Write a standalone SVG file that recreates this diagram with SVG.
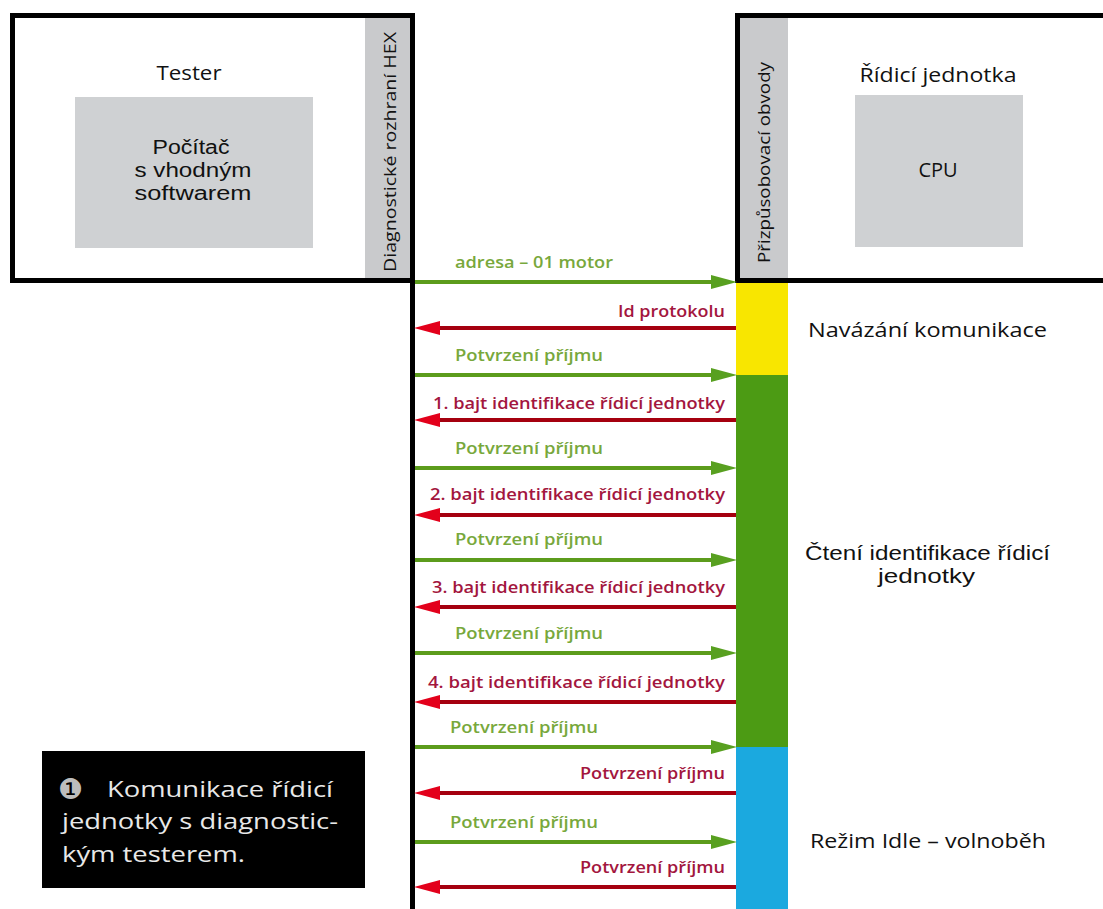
<svg xmlns="http://www.w3.org/2000/svg" width="1103" height="909" viewBox="0 0 1103 909">
<style>
.frame{fill:#fff;stroke:#000;stroke-width:5}
.strip{fill:#c9cacc}
.inner{fill:#cfd1d3}
.t{font-family:"Open Sans","Noto Sans","Liberation Sans",sans-serif;fill:#111}
.s{font-family:"Liberation Sans","Open Sans",sans-serif;fill:#111}
.big{font-size:20px}
.vt{font-size:17px}
.g{stroke:#5c9c1c;stroke-width:4;fill:none}
.r{stroke:#a5000f;stroke-width:4;fill:none}
.gl{font-family:"Open Sans","Noto Sans","Liberation Sans",sans-serif;font-size:16px;font-weight:600;fill:#78a83c}
.rl{font-family:"Open Sans","Noto Sans","Liberation Sans",sans-serif;font-size:16px;font-weight:600;fill:#a3163e;text-anchor:end}
.cap{font-family:"Open Sans","Noto Sans","Liberation Sans",sans-serif;font-size:22px;fill:#e8e8e8}
</style>
<defs>
<marker id="ag" markerUnits="userSpaceOnUse" markerWidth="26" markerHeight="16" refX="13" refY="8" orient="auto">
<path d="M0,1 L26,8 L0,15 z" fill="#58a020"/>
</marker>
<marker id="ar" markerUnits="userSpaceOnUse" markerWidth="26" markerHeight="16" refX="13" refY="8" orient="auto">
<path d="M0,1 L26,8 L0,15 z" fill="#e3001b"/>
</marker>
</defs>
<rect width="1103" height="909" fill="#fff"/>

<g id="tester">
<rect class="frame" x="12.5" y="15.5" width="400" height="265"/>
<rect class="strip" x="365" y="18" width="45" height="260"/>
<text class="t vt" transform="translate(396,272) rotate(-90)" textLength="240" lengthAdjust="spacingAndGlyphs">Diagnostické rozhraní HEX</text>
<text class="t big" x="189" y="80" text-anchor="middle" textLength="65" lengthAdjust="spacingAndGlyphs">Tester</text>
<rect class="inner" x="75" y="97" width="238" height="151"/>
<text class="s big" x="191" y="154" text-anchor="middle" textLength="77" lengthAdjust="spacingAndGlyphs">Počítač</text>
<text class="s big" x="193" y="177" text-anchor="middle" textLength="117" lengthAdjust="spacingAndGlyphs">s vhodným</text>
<text class="s big" x="193" y="200" text-anchor="middle" textLength="117" lengthAdjust="spacingAndGlyphs">softwarem</text>
</g>

<g id="ecu">
<rect class="frame" x="737.5" y="15.5" width="380" height="265"/>
<rect class="strip" x="740" y="18" width="48" height="260"/>
<text class="t vt" transform="translate(770,263) rotate(-90)" textLength="201" lengthAdjust="spacingAndGlyphs">Přizpůsobovací obvody</text>
<text class="t big" x="938" y="82" text-anchor="middle" textLength="157" lengthAdjust="spacingAndGlyphs">Řídicí jednotka</text>
<rect class="inner" x="855" y="95" width="168" height="152"/>
<text class="t big" x="938" y="177" text-anchor="middle">CPU</text>
</g>

<g id="phases">
<rect x="736" y="283" width="52" height="92" fill="#f8e600"/>
<rect x="736" y="375" width="52" height="372" fill="#4c9b14"/>
<rect x="736" y="747" width="52" height="162" fill="#1ba9df"/>
</g>

<g id="phase-labels">
<text class="t big" x="808" y="337" textLength="239" lengthAdjust="spacingAndGlyphs">Navázání komunikace</text>
<text class="s big" x="805" y="560" textLength="245" lengthAdjust="spacingAndGlyphs">Čtení identifikace řídicí</text>
<text class="s big" x="878" y="583" textLength="97" lengthAdjust="spacingAndGlyphs">jednotky</text>
<text class="t big" x="810" y="848" textLength="236" lengthAdjust="spacingAndGlyphs">Režim Idle – volnoběh</text>
</g>

<g id="connectors">
<line x1="412.5" y1="15" x2="412.5" y2="909" stroke="#000" stroke-width="5"/>

<line class="g" x1="415" y1="282" x2="724" y2="282" marker-end="url(#ag)"/>
<line class="r" x1="736" y1="328" x2="427" y2="328" marker-end="url(#ar)"/>
<line class="g" x1="415" y1="375" x2="724" y2="375" marker-end="url(#ag)"/>
<line class="r" x1="736" y1="420" x2="427" y2="420" marker-end="url(#ar)"/>
<line class="g" x1="415" y1="468" x2="724" y2="468" marker-end="url(#ag)"/>
<line class="r" x1="736" y1="515" x2="427" y2="515" marker-end="url(#ar)"/>
<line class="g" x1="415" y1="560" x2="724" y2="560" marker-end="url(#ag)"/>
<line class="r" x1="736" y1="607" x2="427" y2="607" marker-end="url(#ar)"/>
<line class="g" x1="415" y1="653" x2="724" y2="653" marker-end="url(#ag)"/>
<line class="r" x1="736" y1="702" x2="427" y2="702" marker-end="url(#ar)"/>
<line class="g" x1="415" y1="747" x2="724" y2="747" marker-end="url(#ag)"/>
<line class="r" x1="736" y1="793" x2="427" y2="793" marker-end="url(#ar)"/>
<line class="g" x1="415" y1="842" x2="724" y2="842" marker-end="url(#ag)"/>
<line class="r" x1="736" y1="887" x2="427" y2="887" marker-end="url(#ar)"/>

<text class="gl" x="455" y="268" textLength="158" lengthAdjust="spacingAndGlyphs">adresa – 01 motor</text>
<text class="rl" x="725" y="317" textLength="107" lengthAdjust="spacingAndGlyphs">Id protokolu</text>
<text class="gl" x="455" y="361" textLength="148" lengthAdjust="spacingAndGlyphs">Potvrzení příjmu</text>
<text class="rl" x="725" y="409" textLength="292" lengthAdjust="spacingAndGlyphs">1. bajt identifikace řídicí jednotky</text>
<text class="gl" x="455" y="454" textLength="148" lengthAdjust="spacingAndGlyphs">Potvrzení příjmu</text>
<text class="rl" x="725" y="500" textLength="295" lengthAdjust="spacingAndGlyphs">2. bajt identifikace řídicí jednotky</text>
<text class="gl" x="455" y="545" textLength="148" lengthAdjust="spacingAndGlyphs">Potvrzení příjmu</text>
<text class="rl" x="725" y="593" textLength="293" lengthAdjust="spacingAndGlyphs">3. bajt identifikace řídicí jednotky</text>
<text class="gl" x="455" y="639" textLength="148" lengthAdjust="spacingAndGlyphs">Potvrzení příjmu</text>
<text class="rl" x="725" y="688" textLength="297" lengthAdjust="spacingAndGlyphs">4. bajt identifikace řídicí jednotky</text>
<text class="gl" x="450" y="733" textLength="148" lengthAdjust="spacingAndGlyphs">Potvrzení příjmu</text>
<text class="rl" x="725" y="779" textLength="145" lengthAdjust="spacingAndGlyphs">Potvrzení příjmu</text>
<text class="gl" x="450" y="828" textLength="148" lengthAdjust="spacingAndGlyphs">Potvrzení příjmu</text>
<text class="rl" x="725" y="873" textLength="145" lengthAdjust="spacingAndGlyphs">Potvrzení příjmu</text>
</g>

<g id="caption">
<rect x="42" y="751" width="323" height="137" fill="#000"/>
<text x="58" y="799" font-family="DejaVu Sans, sans-serif" font-size="28" fill="#bdbdbd">❶</text>
<text class="cap" x="107" y="797" textLength="226" lengthAdjust="spacingAndGlyphs">Komunikace řídicí</text>
<text class="cap" x="62" y="829" textLength="276" lengthAdjust="spacingAndGlyphs">jednotky s diagnostic-</text>
<text class="cap" x="62" y="862" textLength="183" lengthAdjust="spacingAndGlyphs">kým testerem.</text>
</g>
</svg>
